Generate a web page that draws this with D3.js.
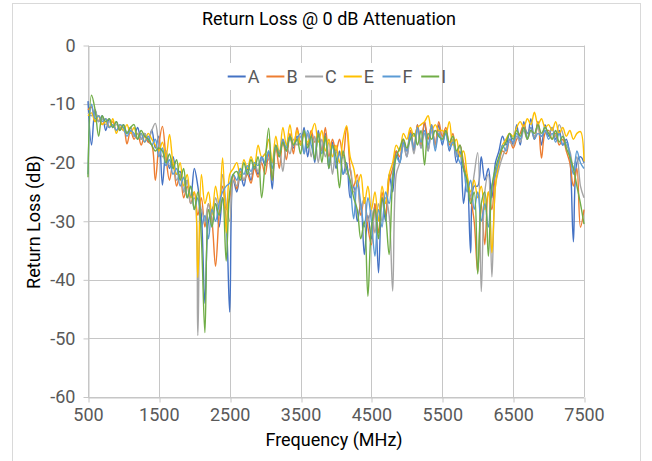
<!DOCTYPE html>
<html>
<head>
<meta charset="utf-8">
<script src="https://cdn.jsdelivr.net/npm/d3@7"></script>
<style>
  body { margin: 0; background: #fff; }
  svg text { font-family: Roboto, "Noto Sans", sans-serif; }
</style>
</head>
<body>
<div id="stage"></div>
<script>
// sample grid, 50 MHz steps
const freq = d3.range(500, 7501, 50);

const xTicks = [500, 1500, 2500, 3500, 4500, 5500, 6500, 7500];
const yTicks = [0, -10, -20, -30, -40, -50, -60];

const names = ["A", "B", "C", "E", "F", "I"];
const colors = ["#4472C4", "#ED7D31", "#A5A5A5", "#FFC000", "#5B9BD5", "#70AD47"];

const serA = [-9.5, -17, -11, -13, -12, -14.5, -12.5, -14, -13, -14.5,
  -13.5, -15, -14, -15.5, -14, -16, -15, -16.5, -14.4, -17.5,
  -15.5, -23.8, -18, -21, -19, -22, -21.5, -25, -23, -26,
  -21, -24, -29, -44, -30, -28, -27, -31, -26, -30,
  -45.5, -23, -25, -22, -24, -21, -23, -20.5, -22, -19,
  -20.5, -18, -24.5, -17.5, -19, -16.5, -18, -15.5, -17.5, -15.5,
  -17, -14, -19, -15, -20, -14.5, -18, -15, -21, -16.5,
  -21, -18, -22, -20, -26, -24, -30, -27, -35.7, -29,
  -33, -27, -38.8, -26, -30, -22, -25, -18, -20, -16.5,
  -19, -14.5, -18, -13.5, -17.5, -13, -18, -14, -17, -13.5,
  -17, -14.5, -18, -16, -20, -18, -27, -22, -35.4, -24,
  -24, -19, -23, -21, -26, -20, -18, -15.5, -17, -15,
  -17, -13.5, -17, -13, -16, -12.5, -16, -13, -17, -13.5,
  -15.5, -14, -16, -14.5, -17, -16, -19, -33.5, -20, -19,
  -20];

const serB = [-11, -10.5, -13, -12, -13.5, -12.5, -14, -13, -14.5, -14,
  -14, -16.8, -14.5, -16, -15, -17, -15.5, -16.5, -17, -23,
  -17, -13.8, -19, -23, -20, -24, -22, -26, -24, -27,
  -25, -29, -26, -31, -27, -30, -37.7, -29, -24, -28,
  -26, -22, -24.5, -21.5, -23, -22, -23.5, -21, -22.5, -20,
  -22, -18.5, -23, -17, -21, -16, -19.5, -15, -18.5, -14,
  -16.5, -15, -17, -14.5, -16.5, -15, -18, -14, -19, -16,
  -18, -16, -19, -13.9, -21, -24, -22, -29, -26, -31,
  -34, -27, -32, -25, -29, -23, -21, -18, -19, -16,
  -18, -14.5, -17.5, -13.5, -17, -13, -16, -13.5, -17, -13,
  -15.5, -14, -17, -15, -18.5, -17, -20, -23, -26, -30,
  -38.7, -27, -34, -25, -28, -22, -20, -18, -18.5, -16,
  -17.5, -16, -15, -13.5, -15, -14, -16, -13, -19.2, -15,
  -14.5, -16, -15, -17, -16, -18, -20, -24, -21, -31,
  -28];

const serC = [-11.5, -12, -11, -13, -12.5, -13.5, -13, -14, -13.5, -14,
  -14.5, -15, -14, -15.5, -15, -16, -15, -16, -14.5, -13.3,
  -17, -19, -18, -20.5, -20, -23, -22, -25, -23, -27,
  -26, -49.5, -28, -30, -27, -31, -26, -28, -22, -27,
  -30, -23, -24, -21, -23, -21.5, -22, -20, -21.5, -19.5,
  -18.5, -19.5, -20, -17.5, -18, -21.5, -17, -18.5, -16, -17,
  -15.5, -18.5, -15, -19, -15.5, -20, -16, -19, -16.5, -22,
  -18, -20, -19, -22, -21, -25, -24, -28, -26, -30,
  -28, -32, -27, -30, -26, -29, -41.9, -22, -20, -17,
  -19, -15.5, -18.5, -14.5, -17.5, -15, -18, -14.5, -17.5, -14.5,
  -16, -15, -17.5, -16, -19, -17, -21, -23, -26, -22,
  -18.3, -42, -25, -22, -39.5, -24, -21, -19, -17.5, -16.5,
  -17, -15.5, -16.5, -14.5, -16, -14.5, -15.5, -14, -15.5, -14.5,
  -15, -14, -15.5, -13.5, -15, -17, -18, -21, -19, -24,
  -26];

const serE = [-12, -11.5, -13, -12, -13.5, -13, -14, -12.5, -15, -13.5,
  -14.5, -13.5, -15, -14, -16, -15, -16.5, -15, -16, -17,
  -18, -16.5, -19, -15.2, -20, -22, -20, -24, -22, -26,
  -25, -39.6, -22, -27, -25, -29, -24, -27, -19.2, -32,
  -22, -21, -20, -22.5, -19.5, -21, -19, -20.5, -17, -19,
  -18.5, -16, -20, -15.5, -18.5, -14, -17, -13.5, -17, -14.5,
  -17, -15, -16.5, -15, -13.3, -16.5, -14.5, -18, -16, -19,
  -17, -20, -16, -13.7, -19, -21, -24, -22, -27, -24,
  -28, -25, -30, -24, -27, -22, -20, -17, -18, -15,
  -16, -14, -15.5, -14, -13.5, -13, -12, -14.5, -13.5, -14.5,
  -14.5, -15, -13, -17, -16, -19, -18, -22, -25, -23,
  -26, -24, -28, -25, -35.4, -24, -20, -17, -16, -15,
  -15.5, -14, -13, -14, -12.5, -13.5, -11.4, -13.5, -12.5, -14,
  -13.5, -14.5, -13, -15, -14, -15.5, -14.5, -16, -15, -14.7,
  -19.8];

const serF = [-22, -10, -12.5, -12, -13, -12.5, -14, -13.5, -14.5, -13.5,
  -14, -15.5, -14.5, -15, -16, -15, -16.5, -15.5, -17, -16,
  -19, -17.5, -20.5, -19.5, -22, -21, -24, -22.5, -26, -24,
  -28, -26, -31, -29, -33, -28, -30, -27, -25, -24,
  -23.5, -22, -23, -21, -22, -20.5, -21.5, -20, -20.5, -19,
  -20, -18, -21, -17, -18.5, -16, -17.5, -15.5, -17, -16,
  -15, -18.5, -14.5, -17, -19, -15, -18.5, -16, -20, -17,
  -20, -18.5, -22, -21, -24, -29.6, -23, -27, -31, -26,
  -30, -36, -28, -31, -25, -27, -22, -19, -20, -16.5,
  -18, -15, -17.5, -14, -16.5, -14.5, -17, -13.5, -18, -15,
  -16.5, -15, -17.5, -16.5, -18.5, -20, -21, -25, -23, -28,
  -25, -30, -27, -31, -24, -22, -19.5, -17, -18, -16,
  -16.5, -15, -16, -14, -15, -14, -16, -15, -15.5, -14.5,
  -16, -15, -16.5, -15, -17, -16.5, -18.5, -22, -18, -20,
  -21];

const serI = [-22.5, -8.5, -11, -15.5, -12, -13, -12.5, -14, -13, -14.5,
  -13.5, -15, -14, -13.5, -16, -14.5, -15.5, -16, -17, -18,
  -17.5, -18, -20, -18.5, -21, -19.5, -23, -21, -26, -24,
  -28, -25, -33, -49, -28, -31, -27, -29, -26, -36.8,
  -25, -22, -21.5, -23, -20, -22, -19.5, -21, -19, -26,
  -20, -14.1, -23, -17, -19, -16.5, -18, -15.5, -17, -16,
  -18.5, -14.5, -17.5, -15.5, -19.5, -15, -20, -15.5, -21, -17,
  -19, -24.3, -18, -21, -23, -26, -28, -33, -30, -42.8,
  -31, -28, -33, -26, -29, -35.7, -23, -19, -17.5, -16,
  -17.5, -16, -15, -17, -14.5, -20.4, -15, -16, -14.5, -15.5,
  -16, -14.5, -16.5, -15.5, -18, -17, -21, -23, -27, -25,
  -39, -27, -25, -36, -24, -21, -19, -17.5, -16.5, -15,
  -16, -14.5, -15.5, -14, -16, -14.5, -15, -13.5, -15, -14,
  -15, -16, -14.5, -16.5, -15.5, -17.5, -19, -21, -24, -27,
  -30.5];

const allSeries = [serA, serB, serC, serE, serF, serI];

const W = 652, H = 461;
const plot = { left: 88, right: 584, top: 45.5, bottom: 397 };

const svg = d3.select("#stage").append("svg")
  .attr("width", W)
  .attr("height", H);

svg.append("rect")
  .attr("x", 0).attr("y", 0).attr("width", W).attr("height", H)
  .attr("fill", "#fff");

// chart border
svg.append("rect")
  .attr("x", 12.5).attr("y", 3.5)
  .attr("width", 628).attr("height", 470)
  .attr("fill", "none")
  .attr("stroke", "#d9d9d9");

const x = d3.scaleLinear().domain([500, 7500]).range([plot.left, plot.right]);
const y = d3.scaleLinear().domain([-60, 0]).range([plot.bottom, plot.top]);

// gridlines
const grid = svg.append("g").attr("stroke", "#c6c6c6").attr("stroke-width", 1);
grid.selectAll(".gx").data(xTicks).join("line")
  .attr("x1", d => Math.round(x(d)) + 0.5).attr("x2", d => Math.round(x(d)) + 0.5)
  .attr("y1", plot.top).attr("y2", plot.bottom);
grid.selectAll(".gy").data(yTicks).join("line")
  .attr("x1", plot.left).attr("x2", plot.right)
  .attr("y1", d => Math.round(y(d)) + 0.5).attr("y2", d => Math.round(y(d)) + 0.5);

// axes
const fmt = d => String(d);
const xAxis = svg.append("g")
  .attr("transform", `translate(0,${Math.round(plot.bottom) + 0.5})`)
  .call(d3.axisBottom(x).tickValues(xTicks).tickFormat(fmt).tickSize(5).tickPadding(6).tickSizeOuter(0));
const yAxis = svg.append("g")
  .attr("transform", `translate(${Math.round(plot.left) + 0.5},0)`)
  .call(d3.axisLeft(y).tickValues(yTicks).tickFormat(fmt).tickSize(5).tickPadding(8).tickSizeOuter(0));

[xAxis, yAxis].forEach(g => {
  g.select(".domain").attr("stroke", "#c6c6c6");
  g.selectAll(".tick line").attr("stroke", "#c6c6c6");
  g.selectAll(".tick text")
    .attr("fill", "#595959")
    .style("font-size", "18px")
    .style("font-family", "Roboto, sans-serif");
});
xAxis.selectAll(".tick line").attr("transform", d => `translate(${Math.round(x(d)) + 0.5 - x(d)},0)`);

// series lines
const line = d3.line()
  .x((d, i) => x(freq[i]))
  .y(d => y(d))
  .curve(d3.curveCatmullRom.alpha(0.5));

svg.append("g").selectAll("path").data(allSeries).join("path")
  .attr("d", d => line(d))
  .attr("fill", "none")
  .attr("stroke", (d, i) => colors[i])
  .attr("stroke-width", 1.4)
  .attr("stroke-linejoin", "round");

// legend
const legend = svg.append("g");
legend.append("rect")
  .attr("x", 222).attr("y", 63).attr("width", 220).attr("height", 27)
  .attr("fill", "#fff");
const items = legend.selectAll("g").data(names).join("g")
  .attr("transform", (d, i) => `translate(${227.7 + i * 38.7},76.5)`);
items.append("line")
  .attr("x1", 0).attr("x2", 18)
  .attr("stroke", (d, i) => colors[i])
  .attr("stroke-width", 2);
items.append("text")
  .attr("x", 20).attr("dy", "0.36em")
  .attr("fill", "#595959")
  .style("font-size", "18px")
  .text(d => d);

// titles
svg.append("text")
  .attr("x", 329).attr("y", 19).attr("dy", "0.35em")
  .attr("text-anchor", "middle")
  .style("font-size", "18px")
  .attr("fill", "#000")
  .text("Return Loss @ 0 dB Attenuation");

svg.append("text")
  .attr("x", 334).attr("y", 440).attr("dy", "0.35em")
  .attr("text-anchor", "middle")
  .style("font-size", "18px")
  .attr("fill", "#000")
  .text("Frequency (MHz)");

svg.append("text")
  .attr("transform", "translate(34,222) rotate(-90)")
  .attr("dy", "0.35em")
  .attr("text-anchor", "middle")
  .style("font-size", "18px")
  .attr("fill", "#000")
  .text("Return Loss (dB)");
</script>
</body>
</html>
